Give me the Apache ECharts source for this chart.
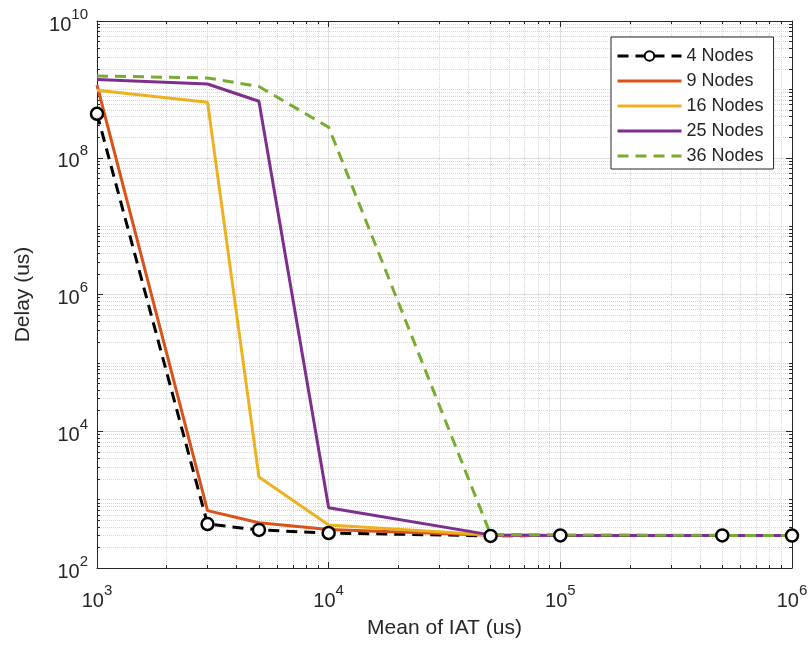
<!DOCTYPE html>
<html>
<head>
<meta charset="utf-8">
<title>Delay vs Mean of IAT</title>
<script src="https://cdn.jsdelivr.net/npm/echarts@6/dist/echarts.min.js"></script>
<style>
  html, body { margin: 0; padding: 0; background: #ffffff; }
  #chart { width: 811px; height: 645px; }
</style>
</head>
<body>
<div id="chart"></div>
<script>
// 横轴：IAT 均值 (us)
const iat = [1000, 3000, 5000, 10000, 50000, 100000, 500000, 1000000];

// 各节点数的时延 (us)
const nodes4 = [4.4e8, 440, 360, 325, 295, 300, 300, 298];
const nodes9 = [1.15e9, 690, 460, 365, 302, 300, 300, 298];
const nodes16 = [9.7e8, 6.5e8, 2150, 425, 305, 300, 300, 298];
const nodes25 = [1.4e9, 1.2e9, 6.7e8, 760, 305, 300, 300, 298];
const nodes36 = [1.57e9, 1.47e9, 1.1e9, 2.8e8, 310, 305, 300, 298];

const seriesNames = ['4 Nodes', '9 Nodes', '16 Nodes', '25 Nodes', '36 Nodes'];

// 刻度
const xMajorTicks = [1e3, 1e4, 1e5, 1e6];
const yMajorTicks = [1e2, 1e4, 1e6, 1e8, 1e10];

const textColor = '#262626';
const axisColor = '#262626';
const fontFamily = '"Liberation Sans", Arial, Helvetica, sans-serif';
const lineWidth = 3;

// 次刻度：每个十进位内的 2..9 倍（y 轴还包括奇数次幂）
const minorValues = (fromExp, toExp, majors) => {
  const out = [];
  for (let k = fromExp; k < toExp; k++) {
    for (let m = 1; m <= 9; m++) {
      const v = m * Math.pow(10, k);
      if (!majors.some(t => Math.abs(t - v) < 1e-6 * t)) out.push(v);
    }
  }
  return out;
};
const xMinorTicks = minorValues(3, 6, xMajorTicks);
const yMinorTicks = minorValues(2, 10, yMajorTicks);

const powLabel = (v) => {
  const e = Math.round(Math.log10(v));
  return '{b|10}{s|' + e + '}';
};
const powRich = {
  b: { fontSize: 20, lineHeight: 28, verticalAlign: 'bottom', color: textColor, fontFamily },
  s: { fontSize: 15, lineHeight: 14, verticalAlign: 'top', color: textColor, fontFamily }
};

const majorGrid = { show: true, lineStyle: { color: '#dedede', width: 1, type: 'solid' } };
const minorGrid = { show: true, lineStyle: { color: '#d6d6d6', width: 1, type: 'dotted' } };

// 构造一根 log 轴（主刻度 / 次刻度 / 对侧边框）
const makeAxis = (opt) => {
  const isX = opt.dim === 'x';
  return {
    type: 'log',
    logBase: 10,
    position: opt.position,
    min: isX ? 1e3 : 1e2,
    max: isX ? 1e6 : 1e10,
    interval: isX ? 1 : 2,
    name: opt.name || '',
    nameLocation: 'middle',
    nameGap: opt.nameGap || 0,
    nameTextStyle: { fontSize: 21, color: textColor, fontFamily },
    axisLine: { show: !!opt.line, onZero: false, lineStyle: { color: axisColor, width: 1 } },
    axisTick: {
      show: true,
      inside: true,
      length: opt.minor ? 3 : 6,
      customValues: opt.minor ? (isX ? xMinorTicks : yMinorTicks) : (isX ? xMajorTicks : yMajorTicks),
      lineStyle: { color: axisColor, width: 1 }
    },
    axisLabel: opt.label ? {
      show: true,
      margin: isX ? 15 : 9,
      customValues: isX ? xMajorTicks : yMajorTicks,
      formatter: powLabel,
      rich: powRich
    } : { show: false },
    splitLine: opt.grid ? (opt.minor ? minorGrid : majorGrid) : { show: false },
    minorTick: { show: false },
    minorSplitLine: { show: false },
    z: opt.minor ? 1 : 2
  };
};

const lineSeries = (name, data, color, extra) => Object.assign({
  name,
  type: 'line',
  data: iat.map((x, i) => [x, data[i]]),
  showSymbol: false,
  symbol: 'none',
  lineStyle: { color, width: lineWidth },
  itemStyle: { color },
  emphasis: { disabled: true },
  animation: false,
  z: 3
}, extra || {});

const chart = echarts.init(document.getElementById('chart'), null, { renderer: 'canvas' });

// 图例：除 4 Nodes 外只画线，不画点
const legendData = seriesNames.map((name, i) =>
  i === 0 ? { name } : { name, itemStyle: { opacity: 0 } }
);

const option = {
  backgroundColor: '#ffffff',
  animation: false,
  grid: { left: 97, right: 19, top: 21, bottom: 77, containLabel: false },
  legend: {
    data: legendData,
    orient: 'vertical',
    left: 611,
    top: 37,
    width: 163,
    padding: [10, 10, 4, 5],
    itemWidth: 64,
    itemHeight: 12,
    itemGap: 7,
    backgroundColor: '#ffffff',
    borderColor: axisColor,
    borderWidth: 1,
    borderRadius: 0,
    lineStyle: { width: 3 },
    textStyle: { fontSize: 18, color: textColor, fontFamily },
    selectedMode: false
  },
  xAxis: [
    makeAxis({ dim: 'x', position: 'bottom', line: true, label: true, grid: true,
      name: 'Mean of IAT (us)', nameGap: 50 }),
    makeAxis({ dim: 'x', position: 'bottom', minor: true, grid: true }),
    makeAxis({ dim: 'x', position: 'top', line: true }),
    makeAxis({ dim: 'x', position: 'top', minor: true })
  ],
  yAxis: [
    makeAxis({ dim: 'y', position: 'left', line: true, label: true, grid: true,
      name: 'Delay (us)', nameGap: 63 }),
    makeAxis({ dim: 'y', position: 'left', minor: true, grid: true }),
    makeAxis({ dim: 'y', position: 'right', line: true }),
    makeAxis({ dim: 'y', position: 'right', minor: true })
  ],
  series: [
    lineSeries('4 Nodes', nodes4, '#000000', {
      showSymbol: true,
      symbol: 'circle',
      symbolSize: 12,
      lineStyle: { color: '#000000', width: lineWidth, type: [11, 7] },
      itemStyle: { color: '#ffffff', borderColor: '#000000', borderWidth: 2.5 }
    }),
    lineSeries('9 Nodes', nodes9, '#D95319'),
    lineSeries('16 Nodes', nodes16, '#EDB120'),
    lineSeries('25 Nodes', nodes25, '#7E2F8E'),
    lineSeries('36 Nodes', nodes36, '#77AC30', {
      lineStyle: { color: '#77AC30', width: lineWidth, type: [11, 7] }
    })
  ]
};

chart.setOption(option);
</script>
</body>
</html>
